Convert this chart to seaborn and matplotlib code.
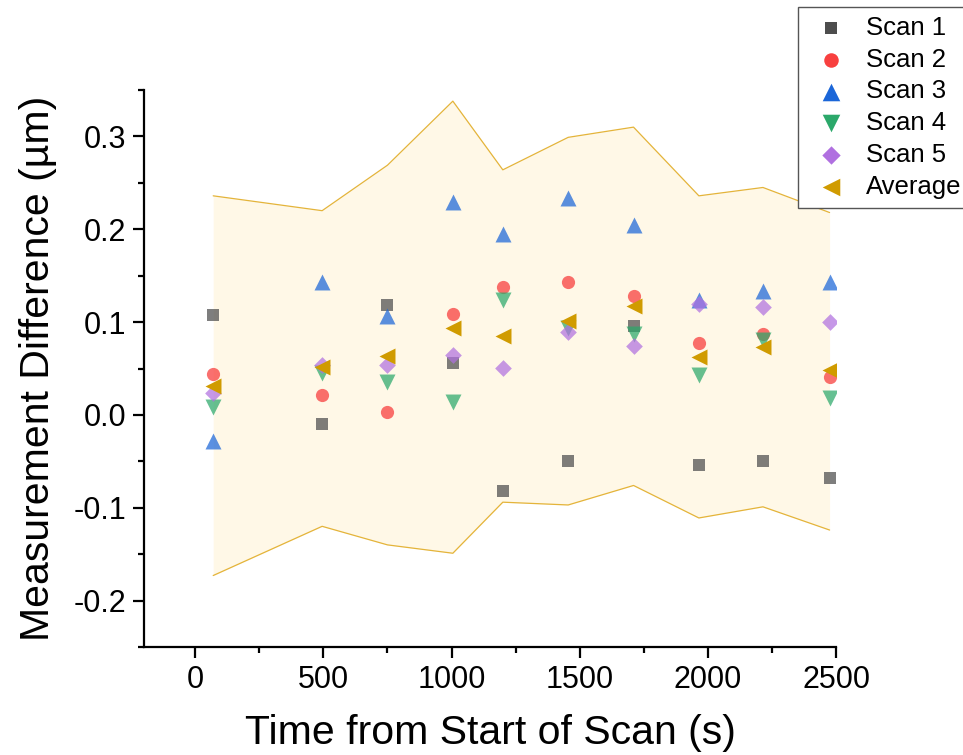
import numpy as np
import pandas as pd
import matplotlib
matplotlib.use("Agg")
import matplotlib.pyplot as plt
import seaborn as sns
from matplotlib.ticker import MultipleLocator

# ---- data ----
time_s = [70, 495, 750, 1005, 1200, 1455, 1710, 1965, 2215, 2475]
scan1 = [0.108, -0.010, 0.118, 0.056, -0.082, -0.050, 0.096, -0.054, -0.050, -0.068]
scan2 = [0.044, 0.021, 0.003, 0.109, 0.138, 0.143, 0.128, 0.078, 0.087, 0.041]
scan3 = [-0.028, 0.143, 0.107, 0.229, 0.195, 0.234, 0.205, 0.124, 0.134, 0.143]
scan4 = [0.008, 0.045, 0.035, 0.014, 0.124, 0.094, 0.087, 0.043, 0.081, 0.018]
scan5 = [0.024, 0.054, 0.054, 0.065, 0.051, 0.089, 0.074, 0.120, 0.116, 0.100]
average = [0.031, 0.052, 0.064, 0.094, 0.085, 0.101, 0.117, 0.062, 0.073, 0.048]
band_upper = [0.236, 0.220, 0.269, 0.338, 0.264, 0.299, 0.310, 0.236, 0.245, 0.218]
band_lower = [-0.173, -0.120, -0.140, -0.149, -0.094, -0.097, -0.076, -0.111, -0.099, -0.124]

series_names = ["Scan 1", "Scan 2", "Scan 3", "Scan 4", "Scan 5", "Average"]
series_values = [scan1, scan2, scan3, scan4, scan5, average]
x_ticks = [0, 500, 1000, 1500, 2000, 2500]
y_ticks = [-0.2, -0.1, 0.0, 0.1, 0.2, 0.3]

# ---- styles ----
colors = {"Scan 1": "#4D4D4D", "Scan 2": "#F8403F", "Scan 3": "#1B66D8",
          "Scan 4": "#2BA86A", "Scan 5": "#B070E0", "Average": "#D09B00"}
markers = {"Scan 1": "s", "Scan 2": "o", "Scan 3": "^", "Scan 4": "v",
           "Scan 5": "D", "Average": "<"}
msizes = {"Scan 1": 8.5, "Scan 2": 9.5, "Scan 3": 11.5, "Scan 4": 11.5,
          "Scan 5": 8.5, "Average": 11.5}
alphas = {"Scan 1": 0.72, "Scan 2": 0.75, "Scan 3": 0.72, "Scan 4": 0.72,
          "Scan 5": 0.72, "Average": 1.0}

sns.set_style("ticks")
plt.rcParams["font.family"] = ["Liberation Sans", "DejaVu Sans"]
plt.rcParams.update({"text.color": "black", "axes.labelcolor": "black",
                     "xtick.color": "black", "ytick.color": "black"})

fig = plt.figure(figsize=(9.63, 7.55), dpi=100)
ax = fig.add_axes([144 / 963, 1 - 647 / 755, (836 - 144) / 963, (647 - 90) / 755])

band = pd.DataFrame({"time": time_s, "upper": band_upper, "lower": band_lower})
ax.fill_between(band["time"], band["lower"], band["upper"], color="#FFF8E7",
                linewidth=0, zorder=1)
sns.lineplot(data=band, x="time", y="upper", ax=ax, color="#E4B43A", lw=0.9, zorder=2)
sns.lineplot(data=band, x="time", y="lower", ax=ax, color="#E4B43A", lw=0.9, zorder=2)

for name, vals in zip(series_names, series_values):
    df = pd.DataFrame({"time": time_s, "value": vals})
    sns.scatterplot(data=df, x="time", y="value", ax=ax, color=colors[name],
                    marker=markers[name], s=msizes[name] ** 2, linewidth=0,
                    alpha=alphas[name], label=name, zorder=3)

ax.set_xlim(-200, 2500)
ax.set_ylim(-0.25, 0.35)
ax.set_xticks(x_ticks)
ax.set_yticks(y_ticks)
ax.set_yticklabels([f"{v:.1f}" for v in y_ticks])
ax.xaxis.set_minor_locator(MultipleLocator(250))
ax.yaxis.set_minor_locator(MultipleLocator(0.05))
ax.tick_params(which="major", length=8, width=1.6, labelsize=22, pad=5,
               color="black", labelcolor="black")
ax.tick_params(which="minor", length=4.5, width=1.6, color="black")
for s in ["top", "right"]:
    ax.spines[s].set_visible(False)
for s in ["left", "bottom"]:
    ax.spines[s].set_linewidth(1.6)
    ax.spines[s].set_color("black")
ax.set_facecolor("white")

ax.set_xlabel("Time from Start of Scan (s)", fontsize=29.5, labelpad=14, color="black")
ax.set_ylabel("Measurement Difference (µm)", fontsize=29.5, labelpad=12, color="black")

leg = ax.legend(loc="upper left", bbox_to_anchor=(798 / 963, 1 - 7 / 755),
                bbox_transform=fig.transFigure, fontsize=18.5, frameon=True,
                fancybox=False, edgecolor="#555555", framealpha=1,
                labelspacing=0.3, handletextpad=0.4, borderpad=0.35,
                borderaxespad=0, handlelength=1.9, markerscale=1.1)
leg.get_frame().set_linewidth(1.0)
for h in leg.legend_handles:
    h.set_alpha(1.0)
for t in leg.get_texts():
    t.set_color("black")
leg.set_zorder(10)

fig.savefig("out.png", dpi=100)
